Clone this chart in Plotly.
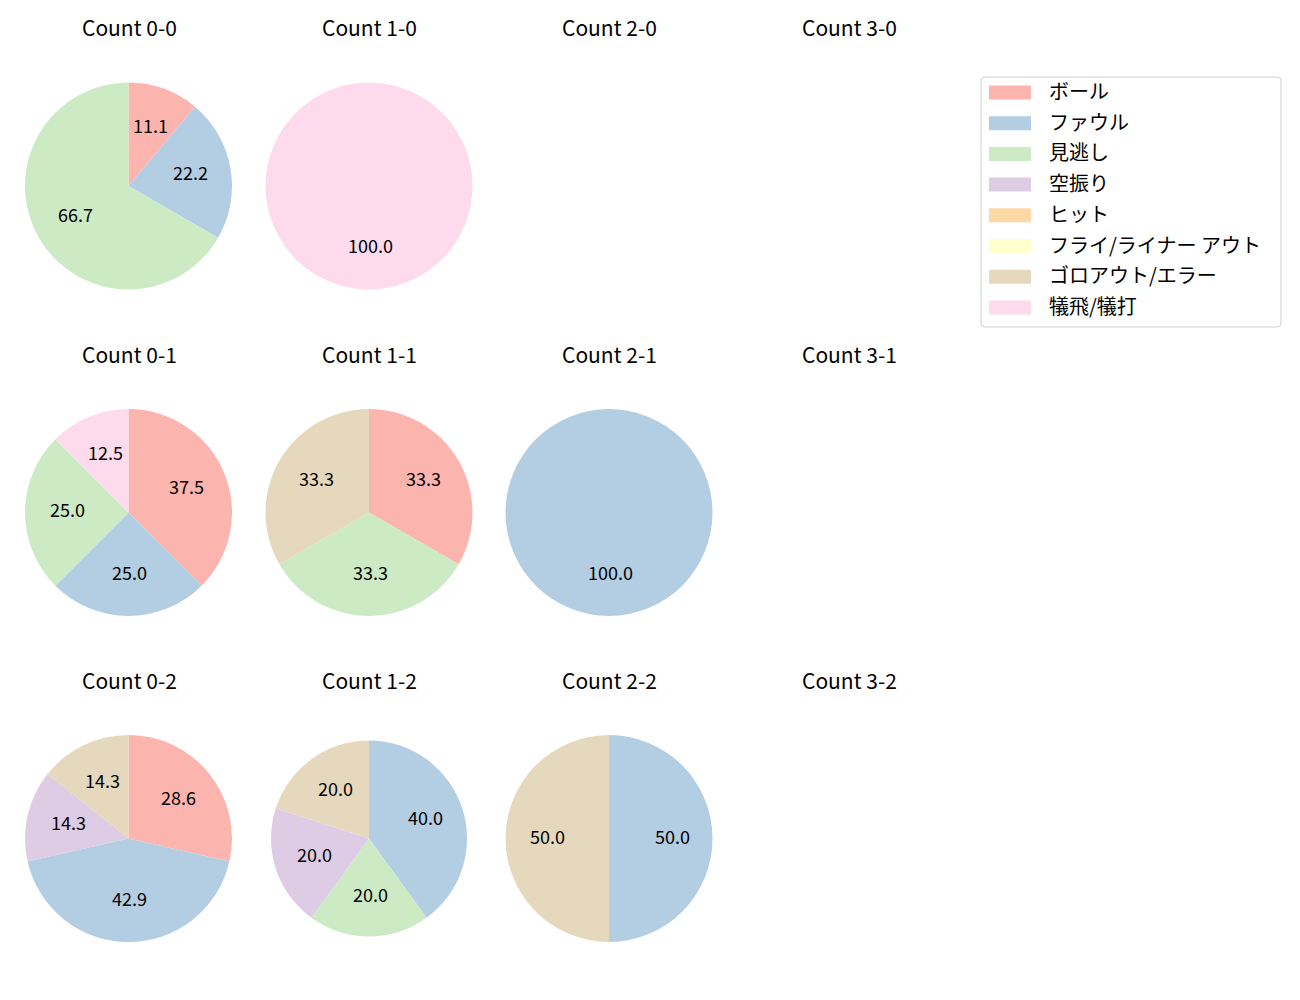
import math
import plotly.graph_objects as go

# ---- data ----
categories = ["ボール", "ファウル", "見逃し", "空振り", "ヒット",
              "フライ/ライナー アウト", "ゴロアウト/エラー", "犠飛/犠打"]
colors = ["#fbb4ae", "#b3cde3", "#ccebc5", "#decbe4", "#fed9a6",
          "#ffffcc", "#e5d8bd", "#fddaec"]

count_0_0 = [1, 2, 6, 0, 0, 0, 0, 0]
count_1_0 = [0, 0, 0, 0, 0, 0, 0, 1]
count_2_0 = None
count_3_0 = None
count_0_1 = [3, 2, 2, 0, 0, 0, 0, 1]
count_1_1 = [1, 0, 1, 0, 0, 0, 1, 0]
count_2_1 = [0, 1, 0, 0, 0, 0, 0, 0]
count_3_1 = None
count_0_2 = [2, 3, 0, 1, 0, 0, 1, 0]
count_1_2 = [0, 2, 1, 1, 0, 0, 1, 0]
count_2_2 = [0, 1, 0, 0, 0, 0, 1, 0]
count_3_2 = None

grid = [
    [("Count 0-0", count_0_0), ("Count 1-0", count_1_0), ("Count 2-0", count_2_0), ("Count 3-0", count_3_0)],
    [("Count 0-1", count_0_1), ("Count 1-1", count_1_1), ("Count 2-1", count_2_1), ("Count 3-1", count_3_1)],
    [("Count 0-2", count_0_2), ("Count 1-2", count_1_2), ("Count 2-2", count_2_2), ("Count 3-2", count_3_2)],
]

# ---- layout constants ----
W, H = 1300, 1000
col_x = [128.5, 369, 609, 849]
row_y = [186, 512.5, 838.5]
title_y = [27, 354, 680]
radius = {("Count 1-2"): 98}
default_r = 103.5
TEXT_DY = -3  # vertical font-centering correction
FONT = "Noto Sans CJK JP, Noto Sans, sans-serif"

fig = go.Figure()
annotations = []
shapes = []

for ri, row in enumerate(grid):
    for ci, (title, vals) in enumerate(row):
        cx, cy = col_x[ci], row_y[ri]
        annotations.append(dict(
            x=(cx + 0.5) / W, y=1 - title_y[ri] / H, xref="paper", yref="paper",
            text=title, showarrow=False, xanchor="center", yanchor="middle",
            font=dict(size=21, color="#000000", family=FONT)))
        if vals is None:
            continue
        r = radius.get(title, default_r)
        labs = [c for c, v in zip(categories, vals) if v > 0]
        vs = [v for v in vals if v > 0]
        cols = [col for col, v in zip(colors, vals) if v > 0]
        fig.add_trace(go.Pie(
            labels=labs, values=vs, sort=False, direction="clockwise", rotation=0,
            marker=dict(colors=cols, line=dict(width=0)),
            textinfo="none", hoverinfo="skip", showlegend=False,
            domain=dict(x=[(cx - r) / W, (cx + r) / W],
                        y=[1 - (cy + r) / H, 1 - (cy - r) / H])))
        total = sum(vs)
        start = 90.0
        for v in vs:
            span = v / total * 360.0
            mid = math.radians(start - span / 2)
            start -= span
            px = cx + 0.6 * r * math.cos(mid)
            py = cy - 0.6 * r * math.sin(mid) + TEXT_DY
            annotations.append(dict(
                x=(px + 1) / W, y=1 - py / H, xref="paper", yref="paper",
                text=f"{v / total * 100:.1f}", showarrow=False,
                xanchor="center", yanchor="middle",
                font=dict(size=18, color="#000000", family=FONT)))

# ---- legend (manual, matplotlib-like) ----
lx0, lx1, ly0, ly1 = 981, 1281, 77, 327
shapes.append(dict(type="path", xref="paper", yref="paper",
                   path=(f"M {(lx0+4)/W},{1-ly0/H} L {(lx1-4)/W},{1-ly0/H} "
                         f"Q {lx1/W},{1-ly0/H} {lx1/W},{1-(ly0+4)/H} "
                         f"L {lx1/W},{1-(ly1-4)/H} Q {lx1/W},{1-ly1/H} {(lx1-4)/W},{1-ly1/H} "
                         f"L {(lx0+4)/W},{1-ly1/H} Q {lx0/W},{1-ly1/H} {lx0/W},{1-(ly1-4)/H} "
                         f"L {lx0/W},{1-(ly0+4)/H} Q {lx0/W},{1-ly0/H} {(lx0+4)/W},{1-ly0/H} Z"),
                   line=dict(color="#d0d0d0", width=1), fillcolor="rgba(255,255,255,0.8)"))
entry_y0, entry_dy = 92.5, 30.7
for i, (cat, col) in enumerate(zip(categories, colors)):
    ey = entry_y0 + i * entry_dy
    shapes.append(dict(type="rect", xref="paper", yref="paper",
                       x0=989 / W, x1=1031 / W, y0=1 - (ey + 7) / H, y1=1 - (ey - 7) / H,
                       fillcolor=col, line=dict(width=0)))
    annotations.append(dict(
        x=1047 / W, y=1 - (ey - 2) / H, xref="paper", yref="paper", text=cat,
        showarrow=False, xanchor="left", yanchor="middle",
        font=dict(size=20, color="#000000", family=FONT)))

fig.update_layout(
    width=W, height=H, margin=dict(l=0, r=0, t=0, b=0),
    paper_bgcolor="white", plot_bgcolor="white",
    annotations=annotations, shapes=shapes, showlegend=False,
)

fig.write_html("out.html")
